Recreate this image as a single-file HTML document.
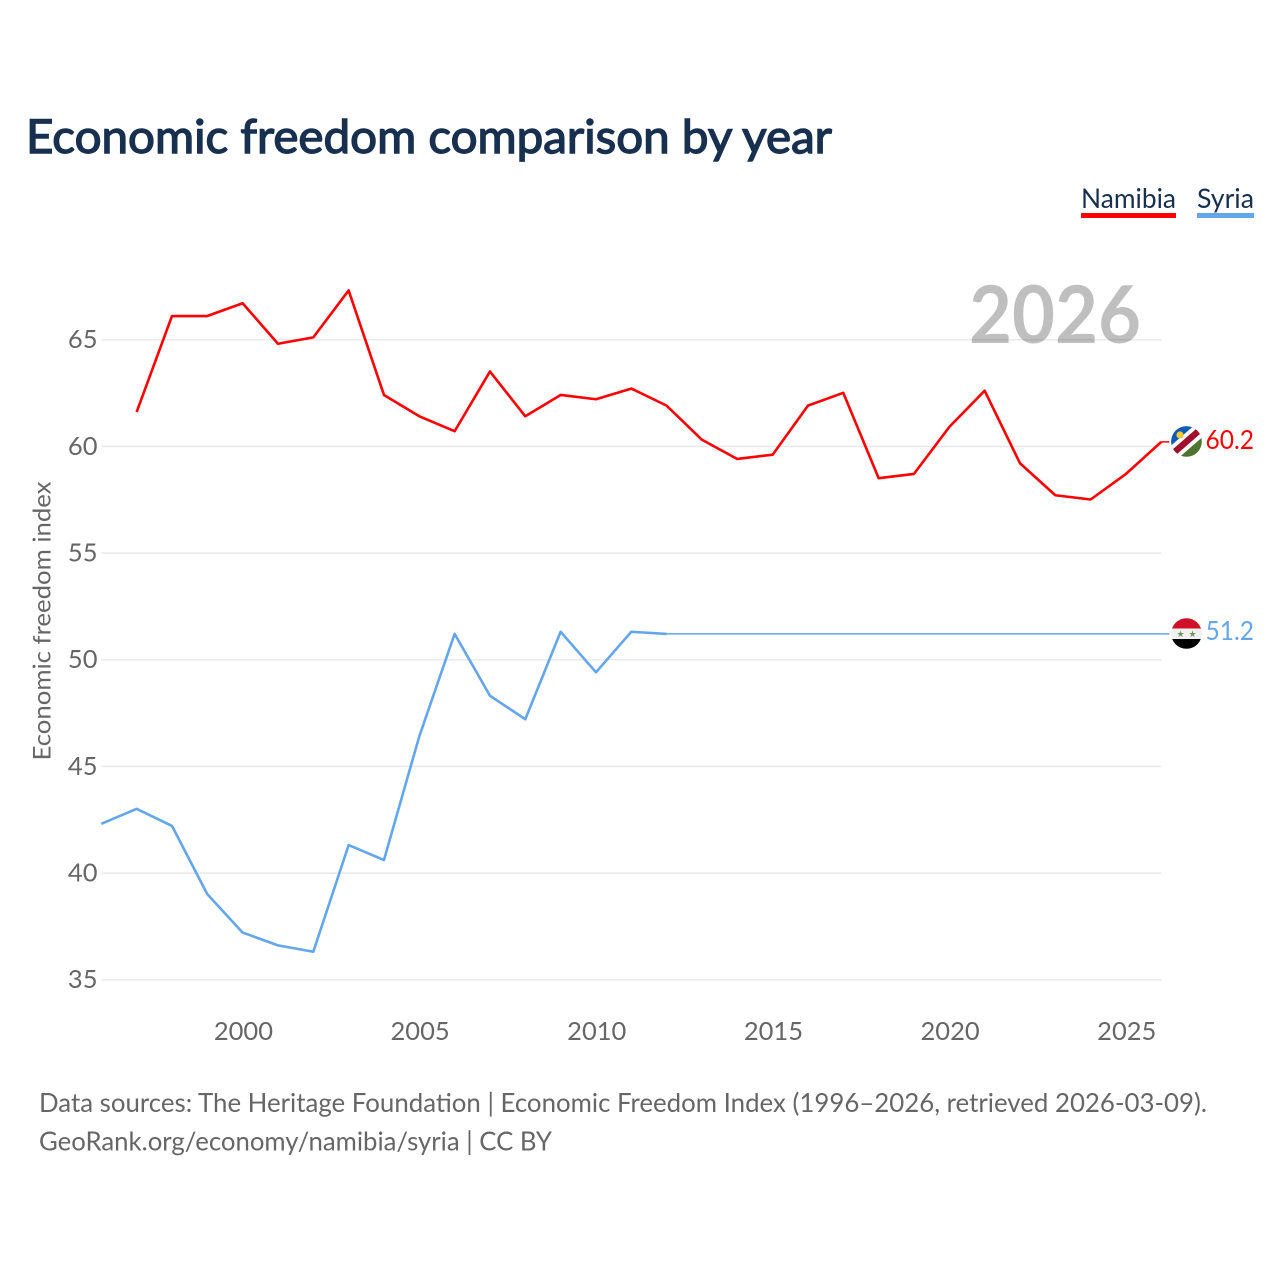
<!DOCTYPE html>
<html lang="en">
<head>
<meta charset="utf-8">
<title>Economic freedom comparison by year</title>
<style>
html,body{margin:0;padding:0;background:#fff;width:1280px;height:1280px;overflow:hidden}
svg{display:block}
text{font-family:"Lato","Carlito","Liberation Sans",sans-serif}
</style>
</head>
<body>
<svg id="chart" xmlns="http://www.w3.org/2000/svg" width="1280" height="1280" viewBox="0 0 1280 1280">
  <rect x="0" y="0" width="1280" height="1280" fill="#ffffff"/>
  <text x="26" y="153" font-size="47" font-weight="400" fill="#18304f" stroke="#18304f" stroke-width="1.4" textLength="806" lengthAdjust="spacingAndGlyphs">Economic freedom comparison by year</text>
  <g id="grid"></g>
  <g id="ytick-labels"></g>
  <g id="xtick-labels"></g>
  <text transform="translate(50.5,621) rotate(-90)" text-anchor="middle" font-size="24.5" fill="#666666" textLength="279" lengthAdjust="spacingAndGlyphs">Economic freedom index</text>
  <text x="1141" y="343" text-anchor="end" font-size="80" font-weight="700" fill="#000000" fill-opacity="0.25" textLength="172" lengthAdjust="spacingAndGlyphs">2026</text>
  <g id="series"></g>

  <g>
    <text x="1081" y="208" font-size="27.5" fill="#18304f" textLength="95" lengthAdjust="spacingAndGlyphs">Namibia</text>
    <rect x="1081" y="213" width="95" height="5" fill="#ff0000"/>
  </g>
  <g>
    <text x="1197" y="208" font-size="27.5" fill="#18304f" textLength="57" lengthAdjust="spacingAndGlyphs">Syria</text>
    <rect x="1197" y="213" width="57" height="5" fill="#63a6ec"/>
  </g>

  <defs>
    <clipPath id="clip-nam"><circle cx="1186.5" cy="441.5" r="15.3"/></clipPath>
    <clipPath id="clip-syr"><circle cx="1186.5" cy="633.5" r="15.3"/></clipPath>
  </defs>
  <g clip-path="url(#clip-nam)">
    <rect x="1170" y="425" width="33" height="33" fill="#4f7331"/>
    <polygon points="1170,425 1203,425 1170,456" fill="#0b5cb8"/>
    <polygon points="1197,423 1206,434 1175,461 1166,450" fill="#ffffff"/>
    <polygon points="1199.5,426 1203.5,431 1172.5,458 1168.5,453" fill="#a00f2d"/>
    <circle cx="1180" cy="435" r="3.6" fill="#f5c92f"/>
  </g>
  <g clip-path="url(#clip-syr)">
    <rect x="1171" y="618" width="31" height="10.5" fill="#ce1126"/>
    <rect x="1171" y="628.5" width="31" height="10.5" fill="#f0f0f0"/>
    <rect x="1171" y="639" width="31" height="11" fill="#000000"/>
    <text x="1180.5" y="637" font-size="9" text-anchor="middle" fill="#6a9a5a" style="font-family:'DejaVu Sans',sans-serif">★</text>
    <text x="1192.5" y="637" font-size="9" text-anchor="middle" fill="#6a9a5a" style="font-family:'DejaVu Sans',sans-serif">★</text>
  </g>
  <text x="1254" y="449" text-anchor="end" font-size="26" fill="#ff0000" textLength="48.5" lengthAdjust="spacingAndGlyphs">60.2</text>
  <text x="1254" y="640" text-anchor="end" font-size="26" fill="#63a6ec" textLength="48.5" lengthAdjust="spacingAndGlyphs">51.2</text>

  <text x="39" y="1112" font-size="26.5" fill="#666666" textLength="1168" lengthAdjust="spacingAndGlyphs">Data sources: The Heritage Foundation | Economic Freedom Index (1996–2026, retrieved 2026-03-09).</text>
  <text x="39" y="1150.5" font-size="26.5" fill="#666666" textLength="513" lengthAdjust="spacingAndGlyphs">GeoRank.org/economy/namibia/syria | CC BY</text>
</svg>
<script>
const yTicks = [35, 40, 45, 50, 55, 60, 65];
const xTicks = [2000, 2005, 2010, 2015, 2020, 2025];
const namibiaStartYear = 1997;
const namibiaValues = [61.6, 66.1, 66.1, 66.7, 64.8, 65.1, 67.3, 62.4, 61.4, 60.7, 63.5, 61.4, 62.4, 62.2, 62.7, 61.9, 60.3, 59.4, 59.6, 61.9, 62.5, 58.5, 58.7, 60.9, 62.6, 59.2, 57.7, 57.5, 58.7, 60.2];
const syriaStartYear = 1996;
const syriaValues = [42.3, 43.0, 42.2, 39.0, 37.2, 36.6, 36.3, 41.3, 40.6, 46.4, 51.2, 48.3, 47.2, 51.3, 49.4, 51.3, 51.2];
const syriaLatestYear = 2026;
const syriaLatestValue = 51.2;

const NS = 'http://www.w3.org/2000/svg';
function xScale(year) { return 101.3 + (year - 1996) * (1161.3 - 101.3) / 30; }
function yScale(value) { return 979.5 - (value - 35) * (979.5 - 339.5) / 30; }

const grid = document.getElementById('grid');
const yLabels = document.getElementById('ytick-labels');
const xLabels = document.getElementById('xtick-labels');
const series = document.getElementById('series');

yTicks.forEach(function (t) {
  const line = document.createElementNS(NS, 'line');
  
  
  line.setAttribute('x1', 101.5);
  line.setAttribute('x2', 1161.5);
  line.setAttribute('y1', yScale(t) + 0.3);
  line.setAttribute('y2', yScale(t) + 0.3);
  line.setAttribute('stroke', '#e8e8e8');
  line.setAttribute('stroke-width', 1.4);
  grid.appendChild(line);
  const label = document.createElementNS(NS, 'text');
  
  
  label.setAttribute('x', 97.5);
  label.setAttribute('y', yScale(t) + 8.7);
  label.setAttribute('text-anchor', 'end');
  label.setAttribute('font-size', '25.5');
  label.setAttribute('fill', '#666666');
  label.textContent = t;
  yLabels.appendChild(label);
});

xTicks.forEach(function (t) {
  const label = document.createElementNS(NS, 'text');
  
  
  label.setAttribute('x', xScale(t) + 0.8);
  label.setAttribute('y', 1040);
  label.setAttribute('text-anchor', 'middle');
  label.setAttribute('font-size', '25.5');
  label.setAttribute('fill', '#666666');
  label.textContent = t;
  xLabels.appendChild(label);
});

function pointsFor(startYear, values) {
  return values.map(function (v, i) {
    return xScale(startYear + i).toFixed(2) + ',' + yScale(v).toFixed(2);
  }).join(' ');
}

const namibiaLine = document.createElementNS(NS, 'polyline');


namibiaLine.setAttribute('points', pointsFor(namibiaStartYear, namibiaValues));
namibiaLine.setAttribute('fill', 'none');
namibiaLine.setAttribute('stroke', '#ff0000');
namibiaLine.setAttribute('stroke-width', 2.6);
namibiaLine.setAttribute('stroke-linejoin', 'round');
series.appendChild(namibiaLine);

const syriaLine = document.createElementNS(NS, 'polyline');


syriaLine.setAttribute('points', pointsFor(syriaStartYear, syriaValues));
syriaLine.setAttribute('fill', 'none');
syriaLine.setAttribute('stroke', '#63a6ec');
syriaLine.setAttribute('stroke-width', 2.6);
syriaLine.setAttribute('stroke-linejoin', 'round');
series.appendChild(syriaLine);

const syriaLastYear = syriaStartYear + syriaValues.length - 1;
const syriaGap = document.createElementNS(NS, 'line');


syriaGap.setAttribute('x1', xScale(syriaLastYear));
syriaGap.setAttribute('y1', yScale(syriaValues[syriaValues.length - 1]));
syriaGap.setAttribute('x2', xScale(syriaLatestYear));
syriaGap.setAttribute('y2', yScale(syriaLatestValue));
syriaGap.setAttribute('stroke', '#63a6ec');
syriaGap.setAttribute('stroke-width', 1.5);
series.appendChild(syriaGap);

const namibiaLast = namibiaValues[namibiaValues.length - 1];
const namibiaTail = document.createElementNS(NS, 'line');


namibiaTail.setAttribute('x1', xScale(2026));
namibiaTail.setAttribute('y1', yScale(namibiaLast));
namibiaTail.setAttribute('x2', xScale(2026) + 8);
namibiaTail.setAttribute('y2', yScale(namibiaLast));
namibiaTail.setAttribute('stroke', '#ff0000');
namibiaTail.setAttribute('stroke-width', 1.5);
series.appendChild(namibiaTail);

const syriaTail = document.createElementNS(NS, 'line');


syriaTail.setAttribute('x1', xScale(2026));
syriaTail.setAttribute('y1', yScale(syriaLatestValue));
syriaTail.setAttribute('x2', xScale(2026) + 8);
syriaTail.setAttribute('y2', yScale(syriaLatestValue));
syriaTail.setAttribute('stroke', '#63a6ec');
syriaTail.setAttribute('stroke-width', 1.5);
series.appendChild(syriaTail);
</script>
</body>
</html>
